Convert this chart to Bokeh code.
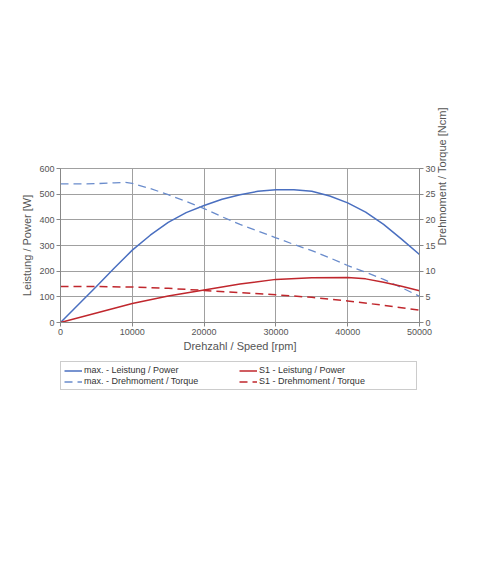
import math
from bokeh.plotting import figure
from bokeh.layouts import column
from bokeh.models import Range1d, LinearAxis, Legend, LegendItem, FixedTicker
from bokeh.embed import file_html
from bokeh.resources import INLINE

# ---- data ----
power_speed = [0, 2500, 5000, 7500, 10000, 12500, 15000, 17500, 20000, 22500, 25000,
               27500, 30000, 32500, 35000, 37500, 40000, 42500, 45000, 47500, 50000]
max_power = [0, 70, 140, 212, 282, 340, 390, 428, 456, 480, 498,
             511, 517, 517, 511, 493, 466, 430, 382, 325, 265]

torque_speed = [0, 2500, 5000, 7500, 9000, 10000, 12500, 15000, 17500, 20000, 22500, 25000,
                27500, 30000, 32500, 35000, 37500, 40000, 42500, 45000, 47500, 50000]
max_torque = [27.0, 27.0, 27.05, 27.2, 27.3, 27.1, 26.1, 24.9, 23.6, 22.2, 20.6, 19.1,
              17.8, 16.5, 15.2, 14.0, 12.6, 11.1, 9.8, 8.4, 6.8, 5.1]

s1_speed = [0, 5000, 10000, 15000, 20000, 25000, 30000, 35000, 40000, 42500, 45000, 47500, 50000]
s1_power = [0, 37, 74, 103, 127, 150, 168, 174, 175, 170, 157, 141, 124]

s1t_speed = [0, 5000, 10000, 15000, 20000, 25000, 30000, 35000, 40000, 45000, 50000]
s1_torque = [7.0, 7.0, 6.9, 6.65, 6.25, 5.8, 5.4, 4.9, 4.2, 3.35, 2.4]

series_labels = ["max. - Leistung / Power", "max. - Drehmoment / Torque",
                 "S1 - Leistung / Power", "S1 - Drehmoment / Torque"]

x_ticks = [0, 10000, 20000, 30000, 40000, 50000]
y_ticks = [0, 100, 200, 300, 400, 500, 600]
y2_ticks = [0, 5, 10, 15, 20, 25, 30]

BLUE = "#4a6fc0"
BLUE_D = "#6a8ccc"
RED = "#c0272d"
GRID = "#a0a0a0"
TXT = "#555555"
FONT = "Liberation Sans"

p = figure(width=472, height=358, output_backend="svg", toolbar_location=None,
           x_range=Range1d(0, 50000), y_range=Range1d(0, 600),
           min_border_left=60, min_border_top=168, min_border_right=53, min_border_bottom=36)
p.extra_y_ranges = {"torque": Range1d(0, 30)}

p.outline_line_color = GRID
p.background_fill_color = "white"


def style(ax):
    ax.major_label_text_font = FONT
    ax.major_label_text_font_size = "9px"
    ax.major_label_text_color = TXT
    ax.axis_label_text_font = FONT
    ax.axis_label_text_font_size = "11px"
    ax.axis_label_text_font_style = "normal"
    ax.axis_label_text_color = TXT
    ax.axis_line_color = "#888888"
    ax.major_tick_line_color = "#888888"
    ax.major_tick_out = 4
    ax.major_tick_in = 0
    ax.minor_tick_line_color = None
    ax.major_label_standoff = 2
    ax.axis_label_standoff = 3


style(p.xaxis[0])
style(p.yaxis[0])
p.xaxis[0].ticker = FixedTicker(ticks=x_ticks)
p.yaxis[0].ticker = FixedTicker(ticks=y_ticks)
p.xaxis[0].axis_label = "Drehzahl / Speed [rpm]"
p.yaxis[0].axis_label = "Leistung / Power [W]"
p.xaxis[0].axis_label_standoff = 2

ax2 = LinearAxis(y_range_name="torque", ticker=FixedTicker(ticks=y2_ticks),
                 axis_label="Drehmoment / Torque [Ncm]")
style(ax2)
ax2.axis_label_orientation = math.pi / 2
ax2.axis_label_text_align = "center"
p.add_layout(ax2, "right")

p.xgrid.ticker = FixedTicker(ticks=x_ticks)
p.ygrid.ticker = FixedTicker(ticks=y_ticks)
p.xgrid.grid_line_color = GRID
p.ygrid.grid_line_color = GRID

line_styles = [
    dict(line_color=BLUE, line_width=1.5),
    dict(line_color=BLUE_D, line_width=1.3, line_dash="8 5"),
    dict(line_color=RED, line_width=1.5),
    dict(line_color=RED, line_width=1.5, line_dash="8 5"),
]

p.line(power_speed, max_power, **line_styles[0])
p.line(torque_speed, max_torque, y_range_name="torque", **line_styles[1])
p.line(s1_speed, s1_power, **line_styles[2])
p.line(s1t_speed, s1_torque, y_range_name="torque", **line_styles[3])

# legend panel below the chart (legend glyph samples only; single off-range point)
pl = figure(width=472, height=40, output_backend="svg", toolbar_location=None,
            x_range=Range1d(1, 2), y_range=Range1d(1, 2),
            x_axis_location=None, y_axis_location=None,
            min_border_left=60, min_border_right=53, min_border_top=0, min_border_bottom=0)
pl.grid.visible = False
pl.outline_line_color = None

items = []
for lab, st in zip(series_labels, line_styles):
    r = pl.line([0], [0], **st)
    items.append(LegendItem(label=lab, renderers=[r]))

legend = Legend(items=items, ncols=2, location=(0, 8))
legend.label_text_font = FONT
legend.label_text_font_size = "9px"
legend.label_text_color = "#333333"
legend.label_height = 9
legend.glyph_height = 9
legend.glyph_width = 18
legend.label_standoff = 2
legend.label_width = 154
legend.spacing = 1
legend.padding = 3
legend.margin = 0
legend.border_line_color = "#999999"
legend.background_fill_alpha = 0
pl.add_layout(legend, "center")

layout = column(p, pl, spacing=0)
open("out.html", "w").write(file_html(layout, INLINE))
